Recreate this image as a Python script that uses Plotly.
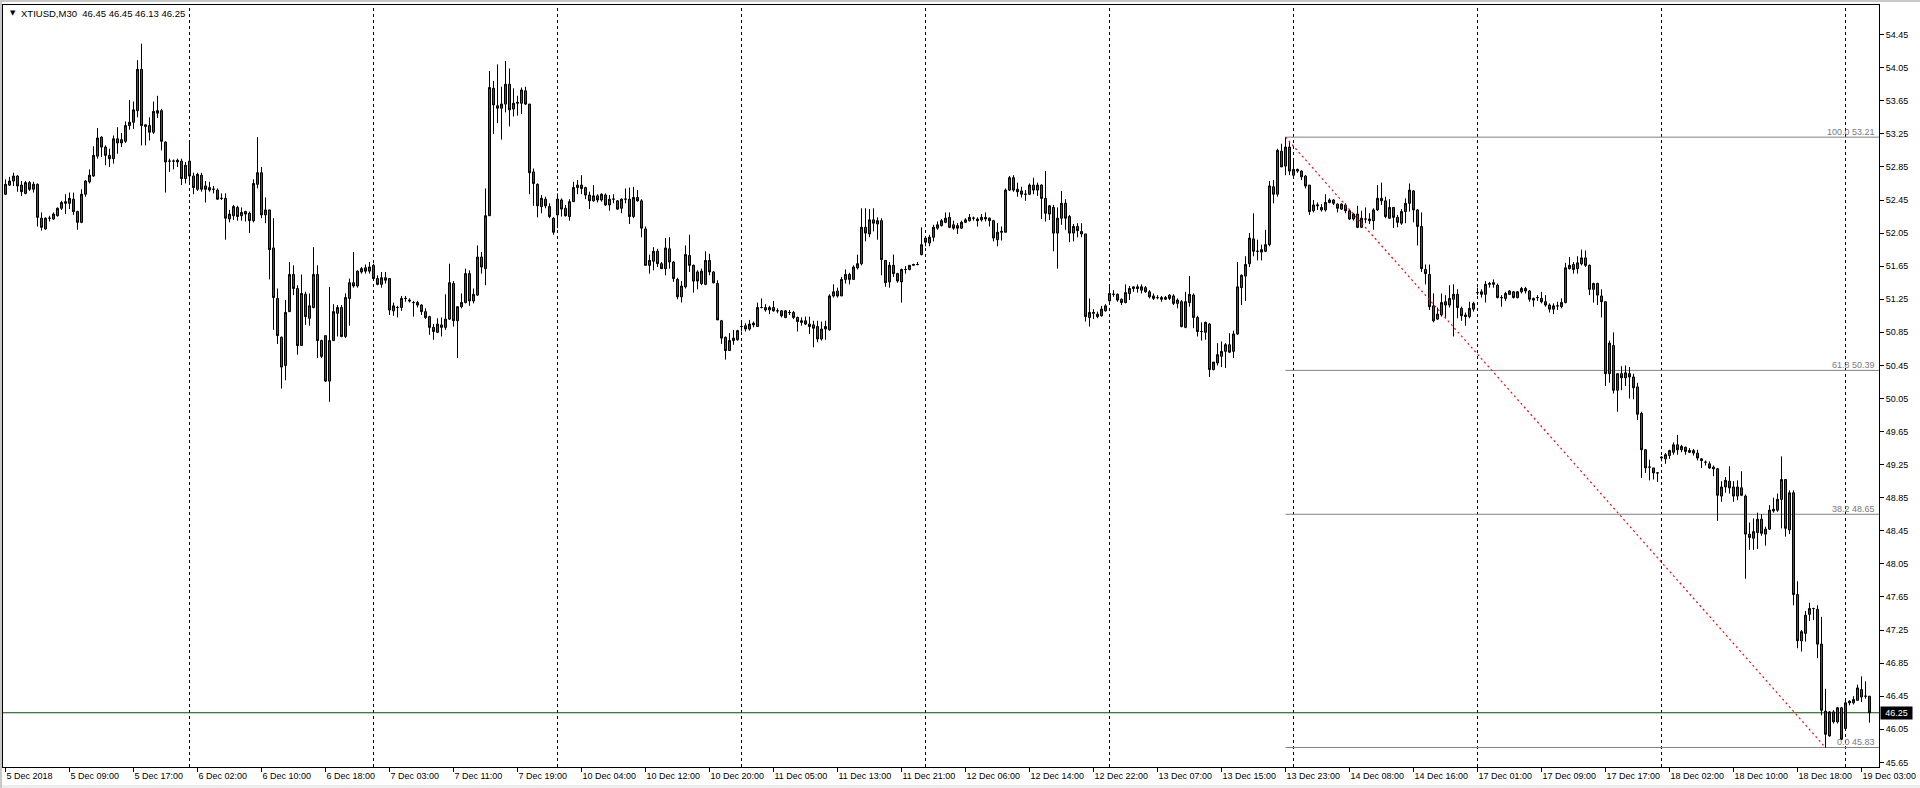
import plotly.graph_objects as go

# ---------------- data (XTIUSD, M30) ----------------
open_ = [
 52.52,52.63,52.68,52.74,52.63,52.53,52.66,52.58,52.64,52.23,
 52.10,52.23,52.22,52.26,52.35,52.41,52.41,52.46,52.31,52.18,
 52.52,52.67,52.74,52.98,53.21,53.09,52.99,52.95,53.19,53.18,
 53.16,53.35,53.39,53.53,54.03,53.36,53.35,53.27,53.50,53.53,
 53.15,52.92,52.92,52.91,52.92,52.71,52.92,52.74,52.58,52.75,
 52.62,52.60,52.58,52.57,52.47,52.47,52.22,52.26,52.36,52.26,
 52.31,52.29,52.20,52.64,52.78,52.27,52.33,51.87,51.26,50.79,
 50.45,51.10,51.55,51.38,50.69,51.31,51.02,51.15,51.55,50.75,
 50.81,50.26,50.75,51.08,51.15,50.80,51.26,51.45,51.41,51.58,
 51.63,51.59,51.66,51.50,51.43,51.51,51.50,51.11,51.15,51.15,
 51.26,51.24,51.21,51.21,51.18,51.10,51.04,50.91,50.85,50.94,
 50.91,51.01,51.44,50.99,51.16,51.21,51.56,51.23,51.30,51.76,
 51.62,52.26,53.80,53.59,53.56,53.61,53.85,53.55,53.62,53.62,
 53.77,53.61,52.79,52.64,52.37,52.46,52.37,52.23,52.27,52.45,
 52.35,52.25,52.43,52.60,52.63,52.60,52.51,52.44,52.50,52.45,
 52.51,52.39,52.46,52.44,52.35,52.46,52.46,52.25,52.48,52.44,
 52.10,51.66,51.71,51.83,51.68,51.62,51.86,51.70,51.49,51.28,
 51.40,51.78,51.66,51.58,51.44,51.43,51.72,51.58,51.44,50.99,
 50.79,50.63,50.75,50.76,50.92,50.93,50.89,50.94,50.92,51.15,
 51.15,51.12,51.15,51.11,51.11,51.03,51.09,51.09,51.03,50.97,
 50.99,50.95,50.94,50.92,50.77,50.89,50.88,51.29,51.35,51.29,
 51.49,51.55,51.49,51.63,51.68,52.12,52.04,52.21,52.16,52.20,
 51.72,51.46,51.66,51.56,51.46,51.61,51.61,51.66,51.67,51.79,
 51.99,51.93,52.00,52.11,52.14,52.18,52.24,52.15,52.14,52.11,
 52.18,52.20,52.23,52.22,52.21,52.24,52.23,52.20,51.97,52.06,
 52.06,52.57,52.72,52.58,52.56,52.52,52.52,52.63,52.57,52.63,
 52.47,52.28,52.36,52.05,52.23,52.41,52.25,52.05,52.13,52.07,
 52.04,51.03,51.08,51.07,51.05,51.11,51.23,51.31,51.31,51.25,
 51.21,51.32,51.38,51.40,51.36,51.39,51.34,51.29,51.27,51.27,
 51.25,51.30,51.29,51.20,51.22,50.91,51.21,51.30,51.03,50.86,
 50.85,50.95,50.40,50.48,50.56,50.62,50.70,50.62,50.83,51.39,
 51.53,51.68,51.98,51.83,51.82,51.83,51.91,52.61,52.52,53.04,
 52.86,53.09,52.75,52.80,52.80,52.74,52.63,52.32,52.38,52.36,
 52.33,52.42,52.45,52.40,52.34,52.39,52.32,52.22,52.28,52.12,
 52.22,52.20,52.20,52.33,52.47,52.44,52.23,52.36,52.24,52.17,
 52.31,52.41,52.56,52.33,52.13,51.61,51.55,51.17,51.01,51.06,
 51.22,51.18,51.25,51.31,51.14,51.06,51.04,51.13,51.33,51.34,
 51.31,51.43,51.43,51.42,51.27,51.26,51.31,51.34,51.27,51.34,
 51.38,51.35,51.26,51.27,51.26,51.22,51.18,51.13,51.17,51.16,
 51.21,51.62,51.67,51.62,51.68,51.75,51.66,51.37,51.44,51.29,
 51.22,50.35,50.69,50.15,50.35,50.30,50.35,50.31,50.19,49.87,
 49.43,49.22,49.21,49.15,49.33,49.32,49.36,49.40,49.49,49.43,
 49.46,49.40,49.42,49.39,49.32,49.28,49.26,49.22,49.20,48.87,
 48.98,49.05,48.98,48.87,48.97,48.87,48.41,48.36,48.43,48.59,
 48.41,48.47,48.69,48.70,48.83,49.07,48.46,48.91,47.68,47.12,
 47.21,47.44,47.51,47.50,47.08,46.27,45.97,46.26,46.14,46.31,
 46.06,46.37,46.37,46.40,46.53,46.45,46.45,
]
high = [
 52.70,52.73,52.78,52.75,52.68,52.68,52.68,52.67,52.65,52.30,
 52.24,52.26,52.30,52.36,52.44,52.52,52.54,52.54,52.32,52.58,
 52.69,52.82,53.10,53.32,53.22,53.11,53.07,53.23,53.33,53.26,
 53.40,53.66,53.64,54.14,54.34,53.36,53.45,53.64,53.71,53.55,
 53.16,52.95,52.94,52.95,52.95,52.91,53.15,52.78,52.78,52.78,
 52.68,52.67,52.62,52.59,52.53,52.53,52.33,52.39,52.38,52.36,
 52.32,52.31,52.70,53.21,52.85,52.48,52.33,52.23,51.38,50.80,
 51.24,51.70,51.66,51.42,51.55,51.34,51.32,51.88,51.66,50.76,
 50.81,51.40,51.19,51.18,51.18,51.32,51.50,51.82,51.60,51.64,
 51.67,51.70,51.68,51.54,51.58,51.58,51.50,51.21,51.17,51.29,
 51.29,51.26,51.23,51.23,51.19,51.14,51.05,50.95,51.02,51.03,
 51.31,51.68,51.47,51.16,51.32,51.62,51.60,51.38,51.90,51.82,
 52.59,54.01,53.89,54.09,53.82,54.13,54.04,53.80,53.71,53.81,
 53.82,53.61,52.83,52.65,52.51,52.49,52.41,52.24,52.53,52.47,
 52.39,52.46,52.67,52.69,52.75,52.61,52.55,52.63,52.52,52.53,
 52.53,52.51,52.52,52.45,52.47,52.59,52.60,52.61,52.57,52.46,
 52.13,51.79,51.88,51.86,51.70,51.99,52.00,51.71,51.51,51.47,
 51.90,52.03,51.67,51.60,51.62,51.83,51.80,51.59,51.48,51.00,
 50.80,50.84,50.88,50.88,50.98,50.96,51.00,50.98,51.21,51.26,
 51.19,51.17,51.23,51.14,51.12,51.12,51.12,51.11,51.04,51.03,
 51.04,51.04,50.99,50.99,50.98,50.99,51.31,51.43,51.39,51.52,
 51.61,51.57,51.66,51.79,52.35,52.35,52.34,52.35,52.24,52.23,
 51.72,51.70,51.79,51.57,51.62,51.65,51.66,51.68,51.70,52.12,
 52.01,52.03,52.15,52.19,52.22,52.30,52.30,52.20,52.17,52.20,
 52.23,52.28,52.25,52.24,52.28,52.30,52.24,52.21,52.17,52.13,
 52.59,52.74,52.75,52.66,52.61,52.57,52.65,52.72,52.66,52.64,
 52.80,52.39,52.39,52.36,52.56,52.46,52.27,52.16,52.17,52.17,
 52.04,51.26,51.13,51.10,51.17,51.19,51.40,51.36,51.32,51.26,
 51.43,51.41,51.40,51.43,51.43,51.41,51.36,51.32,51.30,51.29,
 51.29,51.31,51.31,51.26,51.24,51.34,51.53,51.32,51.05,50.97,
 50.98,50.96,50.49,50.72,50.74,50.72,50.84,50.87,51.70,51.55,
 51.77,52.05,52.29,51.97,51.91,52.09,52.68,52.69,53.07,53.13,
 53.21,53.15,52.93,52.83,52.81,52.75,52.63,52.45,52.42,52.40,
 52.52,52.47,52.46,52.41,52.41,52.41,52.34,52.29,52.38,52.32,
 52.36,52.29,52.35,52.63,52.66,52.49,52.46,52.36,52.27,52.34,
 52.47,52.65,52.57,52.34,52.30,51.67,51.67,51.32,51.15,51.32,
 51.30,51.42,51.43,51.37,51.16,51.09,51.22,51.22,51.39,51.37,
 51.47,51.46,51.49,51.44,51.30,51.34,51.36,51.35,51.35,51.40,
 51.40,51.36,51.27,51.30,51.34,51.30,51.20,51.20,51.22,51.26,
 51.69,51.76,51.70,51.77,51.85,51.84,51.67,51.45,51.45,51.37,
 51.22,50.75,50.85,50.35,50.44,50.45,50.43,50.35,50.24,49.89,
 49.44,49.31,49.21,49.16,49.35,49.39,49.43,49.52,49.61,49.49,
 49.47,49.45,49.44,49.43,49.33,49.30,49.29,49.24,49.21,49.05,
 49.10,49.23,49.05,49.06,49.17,48.89,48.55,48.60,48.67,48.65,
 48.50,48.76,48.85,48.90,49.35,49.07,48.94,48.94,47.84,47.25,
 47.48,47.58,47.52,47.55,47.41,46.54,46.27,46.28,46.32,46.32,
 46.42,46.40,46.45,46.59,46.69,46.63,46.45,
]
low = [
 52.51,52.62,52.62,52.55,52.50,52.52,52.56,52.54,52.13,52.08,
 52.09,52.19,52.21,52.25,52.33,52.28,52.34,52.27,52.09,52.17,
 52.49,52.65,52.73,52.95,52.97,52.87,52.85,52.89,53.01,53.09,
 53.14,53.30,53.31,53.45,53.11,53.11,53.17,53.25,53.44,53.05,
 52.54,52.79,52.82,52.85,52.63,52.65,52.67,52.52,52.56,52.55,
 52.42,52.55,52.53,52.45,52.45,51.97,52.18,52.21,52.20,52.20,
 52.19,52.05,52.18,52.59,52.23,52.17,51.49,50.88,50.71,50.17,
 50.27,51.10,51.30,50.58,50.69,50.94,50.93,51.14,50.54,50.54,
 50.25,50.01,50.75,50.80,50.79,50.78,50.93,51.39,51.39,51.56,
 51.56,51.56,51.49,51.42,51.39,51.44,51.06,51.05,51.03,51.11,
 51.22,51.21,51.04,51.15,51.06,51.01,50.82,50.76,50.84,50.80,
 50.88,51.00,50.92,50.54,51.14,51.20,51.17,51.20,51.29,51.56,
 51.42,52.26,53.25,53.38,53.18,53.51,53.34,53.46,53.47,53.49,
 53.60,52.52,52.38,52.24,52.29,52.35,52.23,52.03,52.11,52.25,
 52.25,52.20,52.43,52.52,52.52,52.46,52.34,52.43,52.42,52.43,
 52.38,52.32,52.41,52.33,52.29,52.41,52.16,52.23,52.43,52.00,
 51.66,51.56,51.60,51.64,51.62,51.54,51.62,51.46,51.25,51.21,
 51.38,51.58,51.33,51.37,51.42,51.42,51.54,51.44,51.00,50.71,
 50.52,50.63,50.70,50.75,50.86,50.86,50.87,50.91,50.92,51.14,
 51.10,51.07,51.10,51.08,51.03,51.02,51.06,51.01,50.86,50.93,
 50.94,50.83,50.67,50.73,50.75,50.76,50.87,51.27,51.27,51.29,
 51.44,51.43,51.49,51.61,51.66,51.95,52.00,52.07,51.97,51.54,
 51.40,51.39,51.52,51.45,51.21,51.56,51.60,51.66,51.66,51.78,
 51.89,51.89,51.95,52.09,52.13,52.17,52.11,52.09,52.04,52.10,
 52.17,52.19,52.20,52.13,52.19,52.19,52.13,51.95,51.89,51.96,
 52.06,52.56,52.55,52.49,52.48,52.44,52.51,52.52,52.50,52.22,
 52.19,52.21,51.83,51.62,52.15,52.09,51.94,51.95,52.00,52.00,
 50.98,50.92,51.01,51.02,51.04,51.10,51.22,51.28,51.22,51.18,
 51.20,51.24,51.34,51.33,51.32,51.33,51.26,51.24,51.25,51.22,
 51.24,51.24,51.18,51.14,50.91,50.90,51.16,50.90,50.80,50.75,
 50.76,50.31,50.39,50.45,50.43,50.42,50.60,50.54,50.82,51.18,
 51.23,51.64,51.77,51.72,51.72,51.82,51.89,52.41,52.49,52.85,
 52.75,52.75,52.74,52.78,52.69,52.59,52.27,52.30,52.33,52.31,
 52.31,52.41,52.39,52.30,52.33,52.29,52.21,52.20,52.11,52.11,
 52.17,52.16,52.09,52.32,52.39,52.23,52.22,52.11,52.12,52.15,
 52.17,52.31,52.18,51.90,51.58,51.43,51.12,50.97,51.00,51.04,
 51.02,51.15,50.80,51.02,50.99,50.93,51.02,51.10,51.30,51.27,
 51.21,51.39,51.39,51.26,51.16,51.23,51.30,51.26,51.26,51.32,
 51.32,51.22,51.16,51.23,51.20,51.16,51.09,51.07,51.12,51.14,
 51.20,51.61,51.56,51.56,51.66,51.64,51.30,51.21,51.18,51.03,
 50.20,50.24,50.11,49.89,50.15,50.20,50.05,50.04,49.79,49.09,
 49.15,49.06,49.07,49.04,49.29,49.26,49.32,49.37,49.37,49.40,
 49.37,49.39,49.36,49.30,49.21,49.24,49.20,49.11,48.57,48.80,
 48.91,48.90,48.80,48.82,48.87,47.87,48.22,48.22,48.23,48.39,
 48.27,48.46,48.67,48.68,48.48,48.38,48.41,47.55,47.03,46.99,
 47.11,47.36,47.37,46.91,46.22,45.83,45.96,46.12,46.12,45.92,
 46.04,46.34,46.35,46.40,46.38,46.42,46.13,
]
close = [
 52.64,52.68,52.74,52.62,52.55,52.66,52.58,52.64,52.24,52.12,
 52.23,52.23,52.28,52.35,52.42,52.43,52.47,52.31,52.18,52.52,
 52.68,52.75,52.99,53.20,53.09,52.99,52.95,53.19,53.14,53.14,
 53.35,53.39,53.54,54.03,53.35,53.34,53.27,53.52,53.53,53.16,
 52.91,52.92,52.92,52.93,52.71,52.87,52.74,52.60,52.76,52.58,
 52.58,52.57,52.58,52.46,52.47,52.23,52.28,52.37,52.25,52.30,
 52.28,52.20,52.65,52.78,52.27,52.33,51.85,51.27,50.81,50.43,
 51.09,51.55,51.38,50.69,51.32,51.04,51.17,51.55,50.75,50.56,
 50.26,50.75,51.10,51.15,50.80,51.27,51.45,51.41,51.59,51.62,
 51.59,51.64,51.50,51.43,51.51,51.48,51.12,51.17,51.15,51.26,
 51.26,51.23,51.21,51.18,51.10,51.03,50.91,50.86,50.95,50.91,
 51.01,51.45,50.99,51.16,51.21,51.56,51.23,51.31,51.76,51.64,
 52.26,53.81,53.60,53.56,53.61,53.85,53.54,53.62,53.63,53.78,
 53.61,52.78,52.65,52.38,52.47,52.38,52.25,52.06,52.46,52.34,
 52.26,52.43,52.60,52.63,52.59,52.51,52.44,52.50,52.45,52.52,
 52.39,52.46,52.46,52.34,52.46,52.46,52.25,52.48,52.44,52.11,
 51.66,51.72,51.83,51.68,51.62,51.87,51.70,51.50,51.28,51.41,
 51.79,51.66,51.47,51.47,51.59,51.72,51.58,51.45,51.00,50.78,
 50.63,50.75,50.78,50.87,50.92,50.89,50.95,50.96,51.15,51.15,
 51.12,51.15,51.11,51.11,51.05,51.11,51.09,51.03,50.98,50.99,
 50.95,50.92,50.90,50.77,50.89,50.92,51.29,51.34,51.29,51.49,
 51.55,51.49,51.64,51.68,52.12,52.05,52.21,52.17,52.20,51.73,
 51.45,51.66,51.56,51.47,51.61,51.61,51.66,51.67,51.67,51.91,
 51.94,52.00,52.12,52.15,52.20,52.23,52.12,52.11,52.11,52.18,
 52.21,52.24,52.23,52.20,52.24,52.22,52.20,51.99,52.06,52.07,
 52.57,52.72,52.57,52.55,52.52,52.52,52.63,52.57,52.63,52.47,
 52.29,52.38,52.05,52.23,52.41,52.23,52.05,52.13,52.08,52.04,
 51.04,51.09,51.09,51.04,51.13,51.17,51.32,51.31,51.24,51.21,
 51.33,51.38,51.40,51.38,51.40,51.34,51.28,51.26,51.27,51.25,
 51.27,51.26,51.20,51.24,50.92,51.22,51.31,51.03,50.86,50.86,
 50.97,50.40,50.49,50.58,50.62,50.70,50.61,50.83,51.40,51.54,
 51.67,51.99,51.83,51.83,51.85,51.91,52.62,52.52,53.05,52.85,
 53.09,52.80,52.82,52.82,52.73,52.62,52.31,52.39,52.39,52.33,
 52.42,52.45,52.41,52.35,52.40,52.32,52.22,52.28,52.12,52.23,
 52.22,52.22,52.33,52.47,52.44,52.25,52.36,52.24,52.18,52.31,
 52.41,52.57,52.33,52.13,51.62,51.56,51.16,50.99,51.07,51.21,
 51.18,51.26,51.31,51.15,51.05,51.04,51.14,51.20,51.33,51.31,
 51.43,51.44,51.45,51.27,51.27,51.32,51.35,51.27,51.34,51.38,
 51.35,51.25,51.24,51.27,51.22,51.18,51.13,51.17,51.17,51.21,
 51.63,51.66,51.61,51.69,51.75,51.66,51.37,51.44,51.30,51.22,
 50.35,50.72,50.15,50.35,50.30,50.36,50.31,50.18,49.86,49.43,
 49.21,49.22,49.15,49.15,49.34,49.37,49.42,49.49,49.43,49.47,
 49.41,49.42,49.39,49.33,49.30,49.28,49.21,49.20,48.88,48.98,
 49.06,48.97,48.87,48.98,48.88,48.41,48.37,48.44,48.59,48.42,
 48.47,48.70,48.71,48.83,49.07,48.48,48.91,47.68,47.12,47.23,
 47.43,47.51,47.51,47.08,46.28,45.99,46.26,46.14,46.31,45.93,
 46.37,46.39,46.41,46.55,46.44,46.45,46.25,
]

tick_labels = ["5 Dec 2018", "5 Dec 09:00", "5 Dec 17:00", "6 Dec 02:00", "6 Dec 10:00",
               "6 Dec 18:00", "7 Dec 03:00", "7 Dec 11:00", "7 Dec 19:00", "10 Dec 04:00",
               "10 Dec 12:00", "10 Dec 20:00", "11 Dec 05:00", "11 Dec 13:00", "11 Dec 21:00",
               "12 Dec 06:00", "12 Dec 14:00", "12 Dec 22:00", "13 Dec 07:00", "13 Dec 15:00",
               "13 Dec 23:00", "14 Dec 08:00", "14 Dec 16:00", "17 Dec 01:00", "17 Dec 09:00",
               "17 Dec 17:00", "18 Dec 02:00", "18 Dec 10:00", "18 Dec 18:00", "19 Dec 03:00"]
tick_bars = [16 * k for k in range(len(tick_labels))]
day_start_bars = [46, 92, 138, 184, 230, 276, 322, 368, 414, 460]
price_ticks = [45.65, 46.05, 46.45, 46.85, 47.25, 47.65, 48.05, 48.45, 48.85, 49.25, 49.65,
               50.05, 50.45, 50.85, 51.25, 51.65, 52.05, 52.45, 52.85, 53.25, 53.65, 54.05, 54.45]
fib_levels = [100.0, 61.8, 38.2, 0.0]
fib_prices = [53.21, 50.39, 48.65, 45.83]
fib_start_bar, fib_end_bar = 320, 455
current_price = 46.25
header = "XTIUSD,M30\u00a0 46.45 46.45 46.13 46.25"

# ---------------- figure ----------------
W, H = 1920, 788
L, R, T, B = 3, 41, 5, 21
pw, ph = W - L - R, H - T - B
X_RANGE = [-0.625, 468.375]      # 4 px per bar, bar centres on pixel centres
Y_RANGE = [45.594, 54.808]
FONT = "Liberation Sans, Arial, sans-serif"
FS = 9

bars = list(range(len(open_)))
fig = go.Figure()
fig.add_trace(go.Candlestick(
    x=bars, open=open_, high=high, low=low, close=close,
    increasing=dict(line=dict(color="black", width=1), fillcolor="#008000"),
    decreasing=dict(line=dict(color="black", width=1), fillcolor="#ff0000"),
    whiskerwidth=0, showlegend=False, hoverinfo="skip",
))

shapes = []
for d in day_start_bars:
    shapes.append(dict(type="line", xref="x", yref="paper", x0=d, x1=d, y0=0, y1=1,
                       line=dict(color="black", width=1, dash="3px,3px"), layer="below"))
for p in fib_prices:
    shapes.append(dict(type="line", xref="x", yref="y", x0=fib_start_bar, x1=X_RANGE[1],
                       y0=p, y1=p, line=dict(color="#808080", width=1), layer="below"))
shapes.append(dict(type="line", xref="x", yref="y", x0=fib_start_bar, y0=fib_prices[0],
                   x1=fib_end_bar, y1=fib_prices[-1],
                   line=dict(color="#ff0000", width=1.2, dash="2px,3px"), layer="above"))
shapes.append(dict(type="line", xref="paper", yref="y", x0=0, x1=1, y0=current_price,
                   y1=current_price, line=dict(color="#005200", width=1), layer="below"))
# window frame
shapes.append(dict(type="rect", xref="paper", yref="paper", x0=-L / pw, x1=(W - L) / pw,
                   y0=1 + (T - 2) / ph, y1=1 + T / ph,
                   fillcolor="#c8c8c8", line=dict(width=0), layer="below"))
shapes.append(dict(type="rect", xref="paper", yref="paper", x0=-L / pw, x1=(W - L) / pw,
                   y0=-B / ph, y1=-(B - 3) / ph,
                   fillcolor="#ececec", line=dict(width=0), layer="below"))
shapes.append(dict(type="rect", xref="paper", yref="paper", x0=-L / pw, x1=-(L - 2) / pw,
                   y0=-B / ph, y1=1 + T / ph,
                   fillcolor="#c8c8c8", line=dict(width=0), layer="below"))

annotations = []
for lvl, p in zip(fib_levels, fib_prices):
    annotations.append(dict(xref="paper", yref="y", x=1, y=p, xanchor="right", yanchor="bottom",
                            text=f"{lvl:.1f} {p:.2f}", showarrow=False, xshift=-2, yshift=-2,
                            font=dict(family=FONT, size=FS, color="#7a7a80")))
annotations.append(dict(xref="paper", yref="y", x=1, y=current_price, xanchor="left",
                        yanchor="middle", text=f"{current_price:.2f}", showarrow=False,
                        bgcolor="black", borderpad=1, xshift=1, width=29,
                        font=dict(family=FONT, size=FS, color="white")))
annotations.append(dict(xref="paper", yref="paper", x=(8 - L) / pw, y=1 - (13 - T) / ph,
                        xanchor="left", yanchor="middle", text="\u25bc", showarrow=False,
                        font=dict(family="DejaVu Sans", size=7, color="black")))
annotations.append(dict(xref="paper", yref="paper", x=(19 - L) / pw, y=1 - (13 - T) / ph,
                        xanchor="left", yanchor="middle", text=header, showarrow=False,
                        font=dict(family=FONT, size=9.5, color="black")))

fig.update_layout(
    width=W, height=H, margin=dict(l=L, r=R, t=T, b=B, pad=0, autoexpand=False),
    plot_bgcolor="white", paper_bgcolor="white", boxgap=0.5, boxgroupgap=0,
    shapes=shapes, annotations=annotations, showlegend=False,
    xaxis=dict(range=X_RANGE, rangeslider=dict(visible=False), showgrid=False, zeroline=False,
               showline=True, mirror=True, linecolor="black", linewidth=1,
               ticks="outside", ticklen=4, tickcolor="black", tickwidth=1, tickangle=0,
               tickvals=tick_bars, ticktext=tick_labels, ticklabelposition="outside right",
               tickfont=dict(family=FONT, size=FS, color="black"), fixedrange=True,
               automargin=False),
    yaxis=dict(range=Y_RANGE, side="right", showgrid=False, zeroline=False,
               showline=True, mirror=True, linecolor="black", linewidth=1,
               ticks="outside", ticklen=4, tickcolor="black", tickwidth=1,
               tickvals=price_ticks, ticktext=[f"{v:.2f}" for v in price_ticks],
               tickfont=dict(family=FONT, size=FS, color="black"), fixedrange=True,
               automargin=False),
)

fig.write_html("out.html", config={"displayModeBar": False},
               post_script="document.body.style.margin='0';document.body.style.overflow='hidden';")
